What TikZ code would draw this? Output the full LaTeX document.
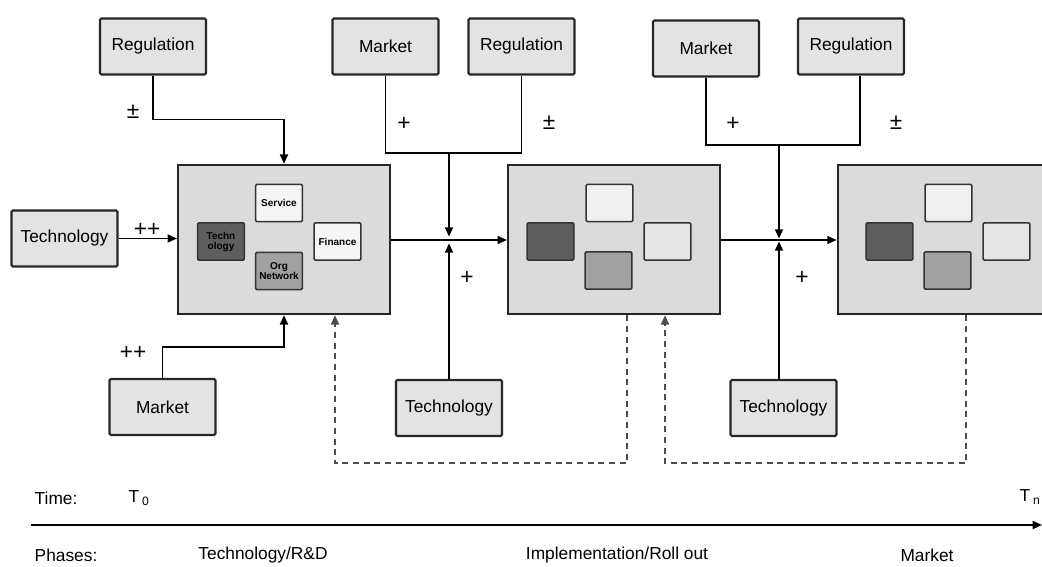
\documentclass[tikz,border=0pt]{standalone}
\usepackage{fontspec}
\setmainfont{Liberation Sans}
\usetikzlibrary{arrows.meta}

\begin{document}
\begin{tikzpicture}[x=0.75pt, y=-0.75pt,
    factor/.style={draw=black!85, line width=1.6pt, fill=black!11, rounded corners=1pt,
        minimum width=79.5pt, minimum height=42pt, inner sep=0pt, font=\fontsize{13}{15}\selectfont},
    phase/.style={draw=black!85, line width=1.6pt, fill=black!14, minimum width=159pt,
        minimum height=112pt, inner sep=0pt},
    part/.style={draw=black!80, line width=1.2pt, rounded corners=1pt, minimum width=35pt,
        minimum height=28pt, inner sep=0pt, align=center, font=\fontsize{7.5}{7.5}\bfseries\selectfont},
    link/.style={line width=1.3pt, -{Triangle[length=7pt,width=6pt]}},
    line/.style={line width=1.3pt},
    back/.style={line width=1.3pt, black!70, dash pattern=on 4.5pt off 3.5pt, -{Triangle[length=7pt,width=6pt]}},
    sign/.style={font=\fontsize{17}{19}\selectfont},
    label/.style={font=\fontsize{13}{15}\selectfont, anchor=west},
    phasetext/.style={font=\fontsize{13}{15}\selectfont}
]
    \useasboundingbox (0,0) rectangle (1042,567);
    \clip (0,0) rectangle (1042,567);
    % Phases
    \node[phase] (ph1) at (284,239.5) {};
    \node[phase] (ph2) at (614,239.5) {};
    \node[phase, minimum width=173pt] (ph3) at (953,239.5) {};
    % Parts of phase 1
    \node[part, fill=black!4]  (svc) at ([shift={(-5,-36.5)}]ph1.center) {Service};
    \node[part, fill=black!63] (tch) at ([shift={(-63,2)}]ph1.center) {Techn\\ology};
    \node[part, fill=black!4]  (fin) at ([shift={(53.5,2)}]ph1.center) {Finance};
    \node[part, fill=black!37] (org) at ([shift={(-5,31.5)}]ph1.center) {Org\\Network};
    % Parts of phases 2 and 3
    \foreach \p in {ph2,ph3} {
        \node[part, fill=black!6]  (\p-a) at ([shift={(-4.5,-36.5)}]\p.center) {};
        \node[part, fill=black!63] (\p-b) at ([shift={(-63.5,2)}]\p.center) {};
        \node[part, fill=black!10] (\p-c) at ([shift={(53.5,2)}]\p.center) {};
        \node[part, fill=black!37] (\p-d) at ([shift={(-5.5,31)}]\p.center) {};
    }
    % Factors
    \node[factor] (reg1) at (153,46.5) {Regulation};
    \node[factor] (tec1) at (64.5,238.5) {Technology};
    \node[factor] (mkt1) at (162.5,407) {Market};
    \node[factor] (mkt2) at (385.5,46.5) {Market};
    \node[factor] (reg3) at (521.5,46.5) {Regulation};
    \node[factor] (tec2) at (449,408) {Technology};
    \node[factor] (mkt4) at (706,48.5) {Market};
    \node[factor] (reg5) at (851,46.5) {Regulation};
    \node[factor] (tec3) at (783.5,408) {Technology};
    % Influences on phase 1
    \draw[link] (reg1.south) -- ++(0,44) -| (ph1.north);
    \draw[link] (tec1.east) -- (tec1.east -| ph1.west);
    \draw[link] (mkt1.north) -- ++(0,-31) -| (ph1.south);
    \node[sign] (s1) at (133,112) {±};
    \node[sign] (s2) at (147,230) {++};
    \node[sign] (s3) at (133,353) {++};
    % Phase 1 to phase 2
    \coordinate (j1) at (449,240);
    \coordinate (m1) at (449,153);
    \draw[link] (ph1.east |- j1) -- (ph2.west |- j1);
    \draw[line] (mkt2.south) |- (m1) -| (reg3.south);
    \draw[link, shorten >=2.5pt] (m1) -- (j1);
    \draw[link, shorten >=2.5pt] (tec2.north) -- (j1);
    \node[sign] (s4) at (404,124) {+};
    \node[sign] (s5) at (549,123) {±};
    \node[sign] (s6) at (467,278) {+};
    % Phase 2 to phase 3
    \coordinate (j2) at (779,240);
    \coordinate (m2) at (779,145);
    \draw[link] (ph2.east |- j2) -- (ph3.west |- j2);
    \draw[line] (mkt4.south) |- (m2) -| ([shift={(9,0)}]reg5.south);
    \draw[link, shorten >=1pt] (m2) -- (j2);
    \draw[link, shorten >=1pt] (tec3.north -| j2) -- (j2);
    \node[sign] (s7) at (733,124) {+};
    \node[sign] (s8) at (896,123) {±};
    \node[sign] (s9) at (802,278) {+};
    % Feedback
    \draw[back] ([shift={(13,0)}]ph2.south) -- ++(0,148) -| ([shift={(51,0)}]ph1.south);
    \draw[back] ([shift={(13,0)}]ph3.south) -- ++(0,148) -| ([shift={(51,0)}]ph2.south);
    % Time line
    \coordinate (ts) at (31,525);
    \coordinate (te) at (1042,525);
    \draw[link, line width=1.5pt] (ts) -- (te);
    \node[label] (time) at (30,498) {Time:};
    \node[label] (t0) at (124,498) {T\,\textsubscript{0}};
    \node[label] (tn) at (1015,497) {T\,\textsubscript{n}};
    \node[label] (phs) at (30,555) {Phases:};
    \node[phasetext] (ph1t) at (263,555) {Technology/R\&D};
    \node[phasetext] (ph2t) at (617,555) {Implementation/Roll out};
    \node[phasetext] (ph3t) at (927,555) {Market};
\end{tikzpicture}
\end{document}
